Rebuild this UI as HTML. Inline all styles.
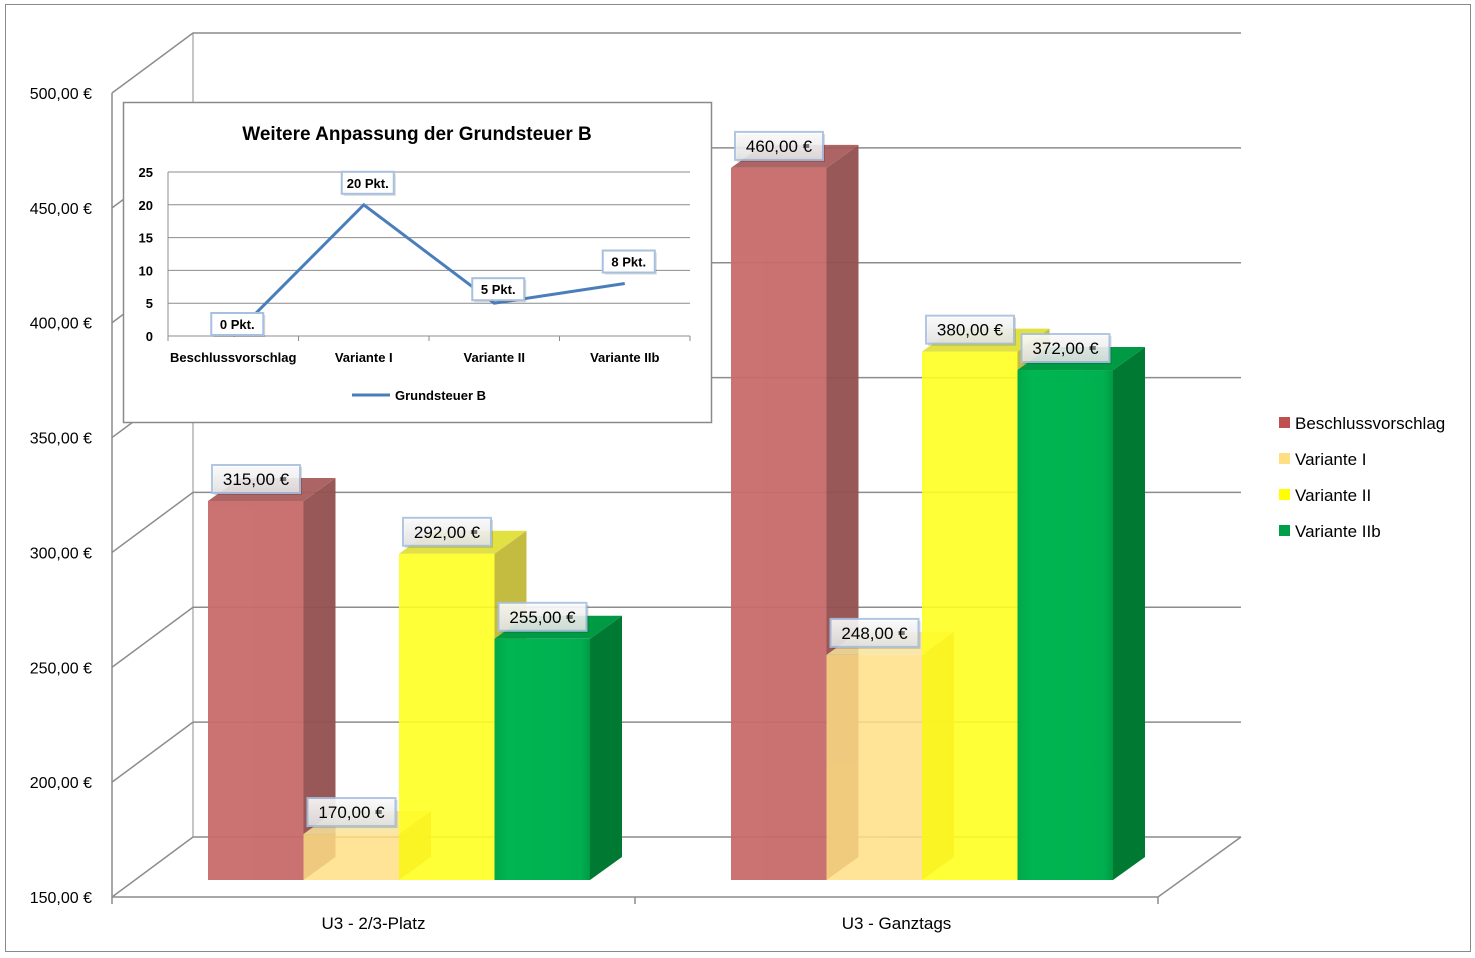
<!DOCTYPE html>
<html><head><meta charset="utf-8"><style>
body{margin:0;background:#fff}
svg{display:block;font-family:"Liberation Sans",sans-serif}
</style></head><body>
<svg id="chart" width="1475" height="958" viewBox="0 0 1475 958">
<defs>
<linearGradient id="gGreen" x1="0" x2="1" y1="0" y2="0"><stop offset="0" stop-color="#00a84a"/><stop offset="0.15" stop-color="#00b552"/><stop offset="0.9" stop-color="#00b050"/><stop offset="1" stop-color="#009a44"/></linearGradient>
<linearGradient id="lbl" x1="0" x2="0" y1="0" y2="1"><stop offset="0" stop-color="#ffffff"/><stop offset="1" stop-color="#e4e4e4"/></linearGradient>
</defs>
<rect x="5.5" y="4.5" width="1465" height="947" fill="#fff" stroke="#8a8a8a"/>
<g id="grid"></g>
<g id="bars"></g>
<g id="labels"></g>
<g id="inset"></g>
<g id="legend"></g>
</svg>
<script>
const NS='http://www.w3.org/2000/svg';
const categories=['U3 - 2/3-Platz','U3 - Ganztags'];
const seriesNames=['Beschlussvorschlag','Variante I','Variante II','Variante IIb'];
const beschluss=[315,460];
const varianteI=[170,248];
const varianteII=[292,380];
const varianteIIb=[255,372];
const yTicks=[150,200,250,300,350,400,450,500];
const yTickLabels=['150,00 €','200,00 €','250,00 €','300,00 €','350,00 €','400,00 €','450,00 €','500,00 €'];
const insetCats=['Beschlussvorschlag','Variante I','Variante II','Variante IIb'];
const insetVals=[0,20,5,8];
const insetTicks=[0,5,10,15,20,25];

const series=[beschluss,varianteI,varianteII,varianteIIb];
const colors=[{f:'#c86a6a',s:'#93504f',t:'#a95c5c',o:0.95},{f:'#ffdf85',s:'#c8862a',t:'#f7e39a',o:0.85},{f:'#ffff22',s:'#bdb52c',t:'#dede30',o:0.9},{f:'url(#gGreen)',s:'#007a33',t:'#009a45',o:1}];
const legendCols=['#c0504d','#ffde84','#ffff00','#00a04a'];
function el(tag,attrs,parent){const e=document.createElementNS(NS,tag);for(const k in attrs)e.setAttribute(k,attrs[k]);parent.appendChild(e);return e;}
const X0=112,X1=1158,DX=81,DY=-60;
const yFront=v=>897-(v-150)*(804/350);
const yBar=v=>880-(v-150)*(804/350);
const grid=document.getElementById('grid');
// back wall + floor
yTicks.forEach((t,i)=>{
  const y=yFront(t);
  const p=el('polyline',{points:`${X0},${y} ${X0+DX},${y+DY} ${X1+DX+2},${y+DY}`,fill:'none',stroke:'#8c8c8c','stroke-width':1.5},grid);
  
  const tk=el('text',{x:92,y:y+6,'text-anchor':'end','font-size':16,fill:'#000'},grid);
  tk.textContent=yTickLabels[i];
  
});
el('line',{x1:X0,y1:yFront(500),x2:X0,y2:yFront(150),stroke:'#8c8c8c','stroke-width':1.5},grid);
el('line',{x1:X0+DX,y1:yFront(500)+DY,x2:X0+DX,y2:yFront(150)+DY,stroke:'#8c8c8c','stroke-width':1},grid);
el('polyline',{points:`${X0},897 ${X1},897 ${X1+DX+2},837`,fill:'none',stroke:'#8c8c8c','stroke-width':1.5},grid);
const catW=(X1-X0)/categories.length;
for(let i=0;i<=categories.length;i++){const x=X0+i*catW;el('line',{x1:x,y1:897,x2:x,y2:904,stroke:'#8c8c8c','stroke-width':1.5},grid);}
categories.forEach((c,i)=>{const t=el('text',{x:X0+catW*(i+0.5),y:929,'text-anchor':'middle','font-size':17},grid);t.textContent=c;});
// bars
const bars=document.getElementById('bars'),labels=document.getElementById('labels');
const BW=95.5,BDX=32,BDY=-23;
categories.forEach((c,ci)=>{
  const gx=X0+catW*ci+96;
  series.forEach((s,si)=>{
    const v=s[ci],x=gx+si*BW,top=yBar(v),bot=880,col=colors[si];
    const g=el('g',{opacity:col.o},bars);
    
    
    el('rect',{x:x,y:top,width:BW,height:bot-top,fill:col.f},g);
    el('polygon',{points:`${x+BW},${top} ${x+BW+BDX},${top+BDY} ${x+BW+BDX},${bot+BDY} ${x+BW},${bot}`,fill:col.s},g);
    el('polygon',{points:`${x},${top} ${x+BW},${top} ${x+BW+BDX},${top+BDY} ${x+BDX},${top+BDY}`,fill:col.t},g);
    const lw=88,lx=x+4,ly=top-36;
    const lg=el('g',{},labels);
    
    el('rect',{x:lx+2,y:ly+2,width:lw,height:28,fill:'#000',opacity:0.15},lg);
    el('rect',{x:lx,y:ly,width:lw,height:28,fill:'url(#lbl)',stroke:'#a8c0e0','stroke-width':2,opacity:0.9},lg);
    const t=el('text',{x:lx+lw/2,y:ly+20,'text-anchor':'middle','font-size':17},lg);
    t.textContent=v.toFixed(2).replace('.',',')+' €';
  });
});
// legend
const leg=document.getElementById('legend');
seriesNames.forEach((n,i)=>{const y=423+i*36;
  const g=el('g',{},leg);
  el('rect',{x:1279,y:y-6,width:11,height:11,fill:legendCols[i]},g);
  const t=el('text',{x:1295,y:y+6,'font-size':17},g);t.textContent=n;});
// inset
const ins=document.getElementById('inset');
const ib=el('rect',{x:123.5,y:102.5,width:588,height:320,fill:'#fff',stroke:'#8a8a8a','stroke-width':1.5},ins);

const tt=el('text',{x:417,y:140,'text-anchor':'middle','font-size':19,'font-weight':'bold'},ins);tt.textContent='Weitere Anpassung der Grundsteuer B';

const IX0=168,IX1=690,IY0=336,IY1=172;
const iy=v=>IY0-(v/25)*(IY0-IY1);
const icw=(IX1-IX0)/insetCats.length;
const ix=i=>IX0+icw*(i+0.5);
insetTicks.forEach(t=>{el('line',{x1:IX0,y1:iy(t),x2:IX1,y2:iy(t),stroke:'#8c8c8c'},ins);
  const l=el('text',{x:153,y:iy(t)+5,'text-anchor':'end','font-size':13,'font-weight':'bold'},ins);l.textContent=t;});
el('line',{x1:IX0,y1:IY1,x2:IX0,y2:IY0,stroke:'#8c8c8c'},ins);
for(let i=0;i<=insetCats.length;i++)el('line',{x1:IX0+i*icw,y1:IY0,x2:IX0+i*icw,y2:IY0+5,stroke:'#8c8c8c'},ins);
insetCats.forEach((c,i)=>{const l=el('text',{x:ix(i),y:362,'text-anchor':'middle','font-size':13,'font-weight':'bold'},ins);l.textContent=c;});
const line=el('polyline',{points:insetVals.map((v,i)=>`${ix(i)},${iy(v)}`).join(' '),fill:'none',stroke:'#4a7ebb','stroke-width':3},ins);

insetVals.forEach((v,i)=>{const w=52,x=ix(i)-22,y=iy(v)-33+(i==0?10:(i==2?8:0));
  el('rect',{x:x+2,y:y+2,width:w,height:22,fill:'#000',opacity:0.15},ins);
  el('rect',{x:x,y:y,width:w,height:22,fill:'#fff',stroke:'#a8c0e0','stroke-width':2},ins);
  const t=el('text',{x:x+w/2,y:y+16,'text-anchor':'middle','font-size':13,'font-weight':'bold'},ins);t.textContent=v+' Pkt.';});
el('line',{x1:352,y1:395,x2:390,y2:395,stroke:'#4a7ebb','stroke-width':3},ins);
const lt=el('text',{x:395,y:400,'font-size':13,'font-weight':'bold'},ins);lt.textContent='Grundsteuer B';
</script>
</body></html>
